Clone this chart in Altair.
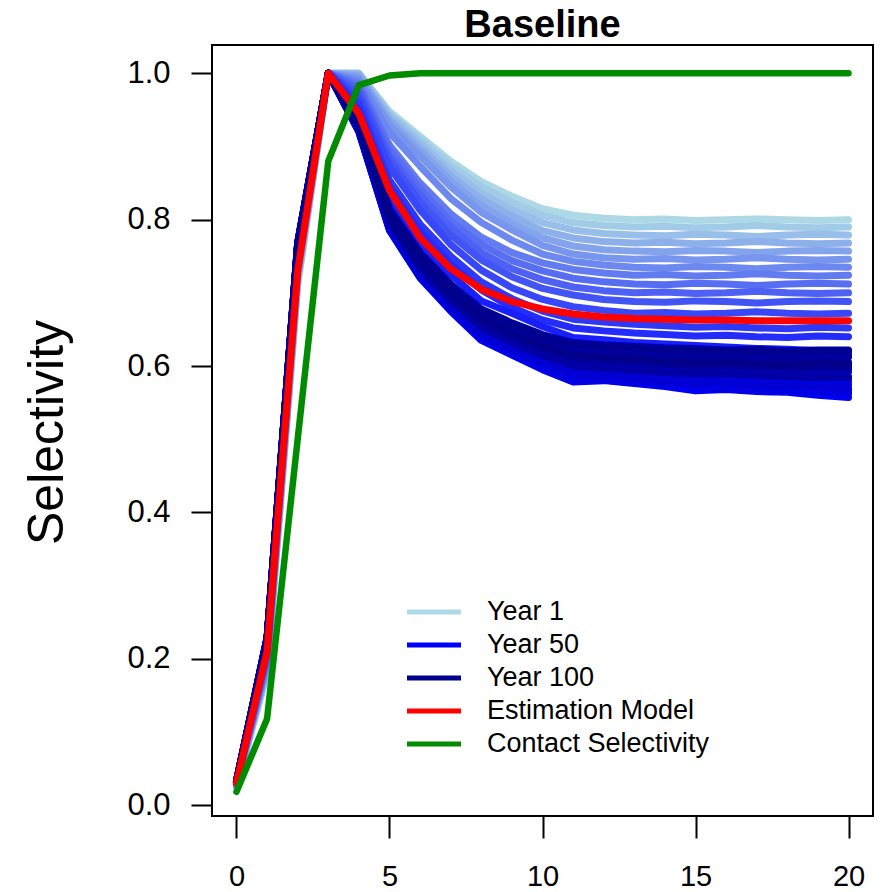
import altair as alt
import pandas as pd

# ---------------- data ----------------
ages = list(range(21))

years = [1, 4, 7, 10, 13, 16, 19, 22, 25, 28, 31, 34, 37, 40, 43, 46, 50,
         53, 56, 59, 62, 65, 68, 71, 74, 77, 80, 83, 86, 89, 92, 95, 98, 100]

year_curves = [
    [0.025,0.180,0.710,1.0,1.000,0.948,0.914,0.880,0.852,0.832,0.815,0.806,0.802,0.800,0.801,0.799,0.800,0.801,0.800,0.799,0.800],
    [0.025,0.182,0.713,1.0,1.000,0.945,0.910,0.874,0.845,0.824,0.806,0.796,0.792,0.790,0.791,0.789,0.790,0.792,0.790,0.789,0.790],
    [0.026,0.185,0.716,1.0,1.000,0.943,0.905,0.867,0.836,0.814,0.796,0.786,0.781,0.779,0.778,0.780,0.779,0.777,0.779,0.780,0.779],
    [0.026,0.187,0.719,1.0,0.998,0.938,0.899,0.860,0.828,0.805,0.785,0.775,0.770,0.768,0.769,0.767,0.768,0.770,0.768,0.767,0.768],
    [0.027,0.190,0.722,1.0,0.996,0.934,0.893,0.853,0.819,0.795,0.775,0.764,0.759,0.757,0.756,0.758,0.757,0.755,0.757,0.758,0.757],
    [0.027,0.192,0.725,1.0,0.993,0.929,0.887,0.845,0.810,0.786,0.765,0.753,0.748,0.746,0.747,0.745,0.746,0.748,0.746,0.745,0.746],
    [0.028,0.195,0.728,1.0,0.990,0.919,0.873,0.829,0.796,0.772,0.753,0.743,0.738,0.735,0.734,0.736,0.735,0.733,0.735,0.736,0.735],
    [0.028,0.197,0.731,1.0,0.986,0.902,0.850,0.808,0.776,0.755,0.741,0.732,0.727,0.724,0.725,0.723,0.724,0.726,0.724,0.723,0.724],
    [0.029,0.200,0.734,1.0,0.982,0.896,0.842,0.798,0.766,0.744,0.730,0.720,0.715,0.712,0.711,0.713,0.712,0.710,0.712,0.713,0.712],
    [0.029,0.203,0.737,1.0,0.977,0.888,0.833,0.789,0.755,0.733,0.718,0.708,0.703,0.700,0.701,0.699,0.700,0.702,0.700,0.699,0.700],
    [0.030,0.205,0.740,1.0,0.972,0.881,0.824,0.779,0.745,0.722,0.706,0.697,0.691,0.688,0.687,0.689,0.688,0.686,0.688,0.689,0.688],
    [0.030,0.208,0.743,1.0,0.966,0.872,0.813,0.766,0.731,0.707,0.691,0.681,0.676,0.672,0.673,0.671,0.672,0.674,0.672,0.671,0.672],
    [0.031,0.211,0.747,1.0,0.958,0.854,0.794,0.750,0.715,0.692,0.675,0.664,0.660,0.657,0.655,0.653,0.654,0.652,0.651,0.653,0.652],
    [0.031,0.214,0.750,1.0,0.950,0.845,0.784,0.739,0.704,0.680,0.663,0.652,0.648,0.645,0.643,0.641,0.642,0.640,0.639,0.641,0.640],
    [0.032,0.217,0.754,1.0,0.942,0.823,0.765,0.725,0.689,0.672,0.654,0.639,0.636,0.632,0.630,0.628,0.626,0.624,0.623,0.621,0.620],
    [0.032,0.221,0.758,1.0,0.932,0.808,0.747,0.705,0.668,0.650,0.631,0.615,0.613,0.610,0.607,0.604,0.602,0.600,0.599,0.597,0.596],
    [0.033,0.226,0.765,1.0,0.922,0.790,0.726,0.681,0.642,0.622,0.602,0.586,0.583,0.580,0.577,0.574,0.572,0.570,0.569,0.567,0.565],
    [0.033,0.228,0.768,1.0,0.920,0.785,0.720,0.675,0.635,0.615,0.595,0.578,0.580,0.576,0.572,0.566,0.568,0.565,0.564,0.560,0.557],
    [0.033,0.229,0.769,1.0,0.921,0.788,0.724,0.679,0.640,0.620,0.600,0.584,0.582,0.579,0.576,0.578,0.574,0.571,0.573,0.570,0.568],
    [0.033,0.229,0.769,1.0,0.922,0.791,0.727,0.683,0.645,0.625,0.606,0.590,0.588,0.585,0.582,0.580,0.582,0.578,0.577,0.576,0.575],
    [0.033,0.228,0.768,1.0,0.920,0.786,0.722,0.677,0.637,0.617,0.597,0.580,0.581,0.577,0.574,0.571,0.569,0.566,0.567,0.564,0.562],
    [0.032,0.228,0.767,1.0,0.923,0.794,0.731,0.687,0.649,0.629,0.611,0.596,0.593,0.590,0.588,0.585,0.583,0.584,0.581,0.582,0.580],
    [0.032,0.228,0.767,1.0,0.921,0.789,0.725,0.680,0.642,0.622,0.603,0.588,0.586,0.583,0.579,0.576,0.577,0.573,0.572,0.571,0.570],
    [0.032,0.227,0.766,1.0,0.924,0.797,0.734,0.690,0.653,0.633,0.615,0.601,0.598,0.595,0.592,0.590,0.588,0.589,0.586,0.586,0.585],
    [0.032,0.226,0.765,1.0,0.928,0.803,0.741,0.698,0.662,0.642,0.625,0.612,0.610,0.607,0.604,0.602,0.603,0.601,0.599,0.601,0.600],
    [0.031,0.225,0.763,1.0,0.932,0.810,0.750,0.707,0.672,0.653,0.637,0.625,0.623,0.620,0.618,0.617,0.616,0.618,0.615,0.614,0.615],
    [0.032,0.226,0.765,1.0,0.926,0.800,0.738,0.694,0.658,0.638,0.620,0.607,0.604,0.601,0.598,0.596,0.597,0.594,0.593,0.594,0.592],
    [0.031,0.224,0.762,1.0,0.935,0.815,0.755,0.712,0.678,0.659,0.643,0.632,0.629,0.627,0.625,0.624,0.622,0.623,0.621,0.622,0.622],
    [0.032,0.226,0.764,1.0,0.929,0.805,0.744,0.701,0.666,0.646,0.629,0.617,0.614,0.611,0.609,0.607,0.608,0.605,0.604,0.606,0.605],
    [0.032,0.227,0.766,1.0,0.924,0.796,0.733,0.689,0.652,0.632,0.614,0.600,0.597,0.594,0.591,0.589,0.590,0.587,0.586,0.584,0.585],
    [0.031,0.225,0.763,1.0,0.931,0.808,0.748,0.705,0.670,0.650,0.634,0.622,0.620,0.617,0.615,0.614,0.612,0.614,0.611,0.613,0.612],
    [0.032,0.226,0.765,1.0,0.927,0.802,0.740,0.697,0.661,0.641,0.624,0.611,0.608,0.605,0.602,0.600,0.601,0.599,0.597,0.598,0.598],
    [0.031,0.224,0.762,1.0,0.934,0.813,0.753,0.710,0.676,0.657,0.641,0.630,0.627,0.625,0.623,0.622,0.620,0.621,0.619,0.621,0.620],
    [0.032,0.225,0.764,1.0,0.928,0.804,0.743,0.700,0.665,0.645,0.628,0.615,0.612,0.610,0.607,0.605,0.606,0.603,0.602,0.604,0.603],
]

estimation_model = [0.030,0.210,0.730,1.0,0.945,0.840,0.775,0.733,0.705,0.688,0.678,
                    0.671,0.667,0.665,0.664,0.663,0.663,0.662,0.662,0.662,0.662]

contact_selectivity = [0.018,0.118,0.500,0.880,0.984,0.997,1.0,1.0,1.0,1.0,1.0,
                       1.0,1.0,1.0,1.0,1.0,1.0,1.0,1.0,1.0,1.0]

title_text = ["Baseline"]
legend_labels = ["Year 1", "Year 50", "Year 100", "Estimation Model", "Contact Selectivity"]
x_ticks = [0, 5, 10, 15, 20]
y_ticks = [0.0, 0.2, 0.4, 0.6, 0.8, 1.0]

assert len(year_curves) == len(years)
assert all(len(c) == len(ages) for c in year_curves)

# ---------------- colours (R: lightblue -> blue -> darkblue) ----------------
LB, B, DB = (173, 216, 230), (0, 0, 255), (0, 0, 139)


def ramp(y):
    if y <= 50:
        t, a, c = (y - 1) / 49, LB, B
    else:
        t, a, c = (y - 50) / 50, B, DB
    return "#%02x%02x%02x" % tuple(round(a[i] + (c[i] - a[i]) * t) for i in range(3))


year_names = [f"Year {y}" for y in years]
color_domain = year_names + ["Estimation Model", "Contact Selectivity"]
color_range = [ramp(y) for y in years] + ["#ff0000", "#008b00"]

# ---------------- tables ----------------
rows = []
for k, (name, curve) in enumerate(zip(year_names, year_curves)):
    for a, v in zip(ages, curve):
        rows.append({"series": name, "age": a, "sel": v, "k": k})
df_years = pd.DataFrame(rows)
df_est = pd.DataFrame({"series": "Estimation Model", "age": ages, "sel": estimation_model})
df_con = pd.DataFrame({"series": "Contact Selectivity", "age": ages, "sel": contact_selectivity})
df_title = pd.DataFrame({"t": title_text})

FONT = "Liberation Sans"
W, H = 661, 771

x_enc = alt.X("age:Q",
              scale=alt.Scale(domain=[-0.8, 20.8], nice=False, zero=False),
              axis=alt.Axis(values=x_ticks, title=None, grid=False, domain=False,
                            tickSize=22, tickWidth=2, tickColor="black",
                            labelFontSize=29, labelFont=FONT, labelColor="black",
                            labelPadding=24, labelFlush=False, format="d"))
y_enc = alt.Y("sel:Q",
              scale=alt.Scale(domain=[-0.015, 1.0387], nice=False, zero=False),
              axis=alt.Axis(values=y_ticks, title="Selectivity", grid=False, domain=False,
                            tickSize=21, tickWidth=2, tickColor="black",
                            labelFontSize=31, labelFont=FONT, labelColor="black",
                            labelPadding=21, format=".1f", labelFlush=False,
                            titleFontSize=50, titleFont=FONT, titleFontWeight="normal",
                            titleColor="black", titleAngle=270, titleAlign="center",
                            titleBaseline="alphabetic", titleX=-150, titleY=387))

legend = alt.Legend(values=legend_labels, title=None, orient="none",
                    legendX=192.5, legendY=552, padding=0,
                    symbolType="stroke", symbolSize=2916, symbolStrokeWidth=5,
                    labelFontSize=27, labelFont=FONT, labelColor="black",
                    labelOffset=23.5, labelLimit=600, clipHeight=30, rowPadding=3)

color_enc = alt.Color("series:N",
                      scale=alt.Scale(domain=color_domain, range=color_range),
                      legend=legend)

line_style = dict(strokeCap="round", strokeJoin="round")

years_layer = alt.Chart(df_years).mark_line(strokeWidth=7, **line_style).encode(
    x=x_enc, y=y_enc, color=color_enc)
est_layer = alt.Chart(df_est).mark_line(strokeWidth=7, **line_style).encode(
    x=x_enc, y=y_enc, color=color_enc)
con_layer = alt.Chart(df_con).mark_line(strokeWidth=6.5, **line_style).encode(
    x=x_enc, y=y_enc, color=color_enc)

# plot title, centred over the plot frame, above its top edge
title_layer = alt.Chart(df_title).mark_text(
    fontSize=38, fontWeight="bold", font=FONT, color="black",
    align="center", baseline="alphabetic").encode(
    text="t:N", x=alt.value(W / 2), y=alt.value(-8))

chart = alt.layer(years_layer, est_layer, con_layer, title_layer).properties(
    width=W, height=H,
    padding={"left": 212, "top": 45, "right": 16, "bottom": 76},
    autosize=alt.AutoSizeParams(type="none"),
    background="white",
).configure_view(stroke="black", strokeWidth=2)

chart.save("out.html", embed_options={"renderer": "svg", "actions": False})
